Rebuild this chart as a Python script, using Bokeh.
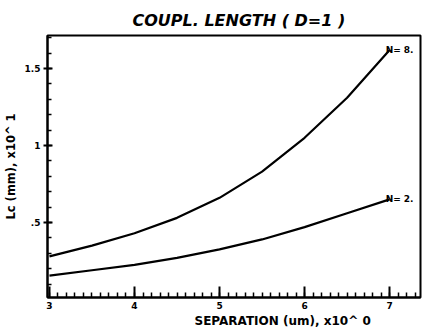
from bokeh.plotting import figure
from bokeh.models import FixedTicker, Range1d, Label, Title
from bokeh.embed import file_html
from bokeh.resources import INLINE

separation = [3.0, 3.5, 4.0, 4.5, 5.0, 5.5, 6.0, 6.5, 7.0]
lc_n8 = [0.28, 0.35, 0.43, 0.53, 0.66, 0.83, 1.05, 1.31, 1.62]
lc_n2 = [0.155, 0.19, 0.225, 0.27, 0.325, 0.39, 0.47, 0.56, 0.65]
curve_labels = ["N= 8.", "N= 2."]
x_ticks = [3, 4, 5, 6, 7]
y_ticks = [0.5, 1.0, 1.5]
y_tick_labels = {0.5: ".5", 1.0: "1", 1.5: "1.5"}

FONT = "DejaVu Sans"
INK = "black"

p = figure(width=422, height=329, output_backend="svg", toolbar_location=None,
           x_range=Range1d(2.977, 7.363), y_range=Range1d(0.013, 1.714),
           min_border_left=45, min_border_right=2, min_border_top=35, min_border_bottom=32)
p.title.text = "COUPL. LENGTH ( D=1 )"
p.title.text_font = FONT
p.title.text_font_style = "bold italic"
p.title.text_font_size = "16px"
p.title.text_color = INK
p.title.align = "left"
p.title.offset = 85
p.title.standoff = 11

p.xgrid.visible = False
p.ygrid.visible = False
p.outline_line_color = INK
p.outline_line_width = 2
p.background_fill_color = "white"
p.border_fill_color = "white"

xa = p.xaxis[0]
xa.ticker = FixedTicker(ticks=x_ticks, minor_ticks=[round(3 + 0.1 * i, 1) for i in range(44)])
xa.axis_line_width = 2
xa.axis_line_color = INK
xa.major_tick_line_color = INK
xa.minor_tick_line_color = INK
xa.major_tick_in = 11
xa.major_tick_out = 0
xa.minor_tick_in = 5
xa.minor_tick_out = 0
xa.major_tick_line_width = 2
xa.minor_tick_line_width = 1.5
xa.major_label_text_font = FONT
xa.major_label_text_font_style = "bold"
xa.major_label_text_font_size = "9px"
xa.major_label_text_color = INK
xa.major_label_standoff = 4

ya = p.yaxis[0]
ya.ticker = FixedTicker(ticks=y_ticks, minor_ticks=[round(0.1 * i, 1) for i in range(1, 18)])
ya.major_label_overrides = y_tick_labels
ya.axis_line_width = 2
ya.axis_line_color = INK
ya.major_tick_line_color = INK
ya.minor_tick_line_color = INK
ya.major_tick_in = 5
ya.major_tick_out = 4
ya.minor_tick_in = 4
ya.minor_tick_out = 0
ya.major_tick_line_width = 2
ya.minor_tick_line_width = 1.5
ya.major_label_text_font = FONT
ya.major_label_text_font_style = "bold"
ya.major_label_text_font_size = "9px"
ya.major_label_text_color = INK
ya.major_label_standoff = 3
ya.axis_label = "Lc (mm), x10^ 1"
ya.axis_label_text_font = FONT
ya.axis_label_text_font_style = "bold"
ya.axis_label_text_font_size = "11.5px"
ya.axis_label_text_color = INK
ya.axis_label_standoff = 4

p.line(separation, lc_n8, line_color=INK, line_width=2.2)
p.line(separation, lc_n2, line_color=INK, line_width=2.2)

for lab, yy in zip(curve_labels, [lc_n8[-1], lc_n2[-1]]):
    p.add_layout(Label(x=separation[-1], y=yy, text=lab, text_font=FONT,
                       text_font_style="bold", text_font_size="9px", text_color=INK,
                       text_align="left", text_baseline="middle", x_offset=-4))

xlabel = Title(text="SEPARATION (um), x10^ 0", text_font=FONT, text_font_style="bold",
               text_font_size="12px", text_color=INK, align="left", offset=147, standoff=0)
p.add_layout(xlabel, "below")

open("out.html", "w").write(file_html(p, INLINE))
